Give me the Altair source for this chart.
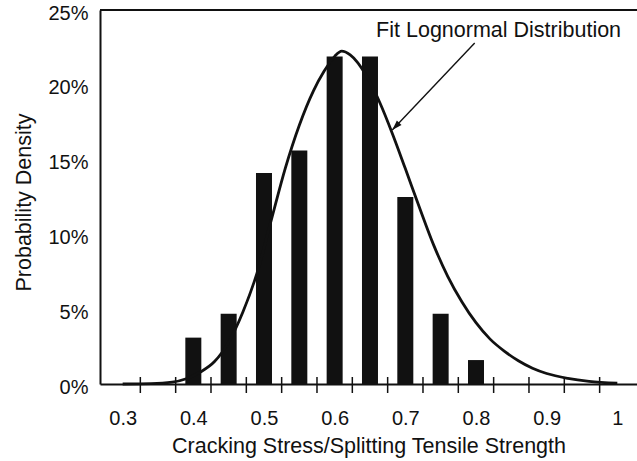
import altair as alt
import pandas as pd

# Histogram bins (category centres) and observed probability per bin
bin_x = [0.40, 0.45, 0.50, 0.55, 0.60, 0.65, 0.70, 0.75, 0.80]
bin_p = [0.031, 0.047, 0.141, 0.156, 0.219, 0.219, 0.125, 0.047, 0.016]

# Fitted lognormal curve (probability per bin)
curve_x = [0.300, 0.340, 0.370, 0.390, 0.410, 0.430, 0.450, 0.470, 0.490, 0.510,
           0.530, 0.550, 0.570, 0.585, 0.600, 0.610, 0.622, 0.645, 0.664, 0.682,
           0.700, 0.720, 0.740, 0.760, 0.780, 0.800, 0.820, 0.840, 0.860, 0.880,
           0.900, 0.930, 0.960, 1.000]
curve_p = [0.0000, 0.0002, 0.0012, 0.0035, 0.0080, 0.0150, 0.0280, 0.0480, 0.0740, 0.1090,
           0.1440, 0.1730, 0.1960, 0.2090, 0.2190, 0.2225, 0.2200, 0.2060, 0.1880, 0.1670,
           0.1440, 0.1180, 0.0930, 0.0720, 0.0550, 0.0410, 0.0300, 0.0220, 0.0155, 0.0105,
           0.0070, 0.0038, 0.0018, 0.0005]

# Axis labels and category boundaries (tick marks)
x_labels = [0.3, 0.4, 0.5, 0.6, 0.7, 0.8, 0.9, 1.0]
y_labels = [0.0, 0.05, 0.10, 0.15, 0.20, 0.25]
tick_x = [0.325, 0.375, 0.425, 0.475, 0.525, 0.575, 0.625, 0.675,
          0.725, 0.775, 0.825, 0.875, 0.925, 0.975]

# Annotation
note_text = ["Fit Lognormal Distribution"]
note_x = [0.832]
note_y = [0.2322]
arrow_from = [0.7982, 0.228]
arrow_to = [0.6815, 0.1698]

FONT = "Liberation Sans"
INK = "#111111"

bars_df = pd.DataFrame({"x": bin_x, "y": bin_p})
curve_df = pd.DataFrame({"x": curve_x, "y": curve_p})
ticks_df = pd.DataFrame({"x": tick_x, "y": [-0.006] * len(tick_x), "y2": [0.0047] * len(tick_x)})
note_df = pd.DataFrame({"x": note_x, "y": note_y, "t": note_text})
arrow_df = pd.DataFrame({"x": [arrow_from[0]], "y": [arrow_from[1]],
                         "x2": [arrow_to[0]], "y2": [arrow_to[1]]})
head_df = pd.DataFrame({"x": [arrow_to[0]], "y": [arrow_to[1]]})

xscale = alt.Scale(domain=[0.275, 1.0208], nice=False, zero=False)
yscale = alt.Scale(domain=[0, 0.25], nice=False)

xaxis = alt.Axis(values=x_labels, format=".1~f", ticks=False, grid=False,
                 labelPadding=24, labelFlush=False, labelOverlap=False,
                 labelFontSize=20, labelFont=FONT, labelColor=INK,
                 title="Cracking Stress/Splitting Tensile Strength",
                 titleFont=FONT, titleFontSize=21.5, titleFontWeight="normal",
                 titleColor=INK, titleY=68, titleBaseline="alphabetic",
                 domainColor=INK, domainWidth=2)
yaxis = alt.Axis(values=y_labels, format=".0%", ticks=False, grid=False,
                 labelPadding=12, labelOffset=3, labelFontSize=20, labelFont=FONT,
                 labelColor=INK, title="Probability Density", titleFont=FONT,
                 titleFontSize=21.5, titleFontWeight="normal", titleColor=INK,
                 titleX=-70, titleY=192, titleAngle=270, titleAlign="center",
                 titleBaseline="alphabetic", domainColor=INK, domainWidth=2)

X = alt.X("x:Q", scale=xscale, axis=xaxis)
Y = alt.Y("y:Q", scale=yscale, axis=yaxis)

bars = alt.Chart(bars_df).mark_bar(size=16, color=INK).encode(x=X, y=Y)
curve = alt.Chart(curve_df).mark_line(color=INK, strokeWidth=2.8,
                                      interpolate="monotone").encode(x=X, y=Y)
ticks = alt.Chart(ticks_df).mark_rule(color=INK, strokeWidth=1.5).encode(
    x=X, y=Y, y2="y2:Q")
top = alt.Chart(pd.DataFrame({"y": [0.25]})).mark_rule(color=INK, strokeWidth=2).encode(y=Y)
note = alt.Chart(note_df).mark_text(font=FONT, fontSize=21.5, color=INK,
                                    align="center", baseline="alphabetic").encode(
    x=X, y=Y, text="t:N")
arrow = alt.Chart(arrow_df).mark_rule(color=INK, strokeWidth=1.4).encode(
    x=X, y=Y, x2="x2:Q", y2="y2:Q")
head = alt.Chart(head_df).mark_point(shape="M0,0 L-0.32,1 L0.32,1 Z", size=400,
                                     filled=True, color=INK, opacity=1,
                                     angle=224).encode(x=X, y=Y)

chart = alt.layer(bars, curve, ticks, top, arrow, head, note).properties(
    width=537, height=374,
    autosize=alt.AutoSizeParams(type="none"),
    padding={"left": 100, "top": 10, "right": 0, "bottom": 77},
    background="white",
).configure_view(stroke=None)

chart.save("out.html", embed_options={"renderer": "svg", "actions": False})
